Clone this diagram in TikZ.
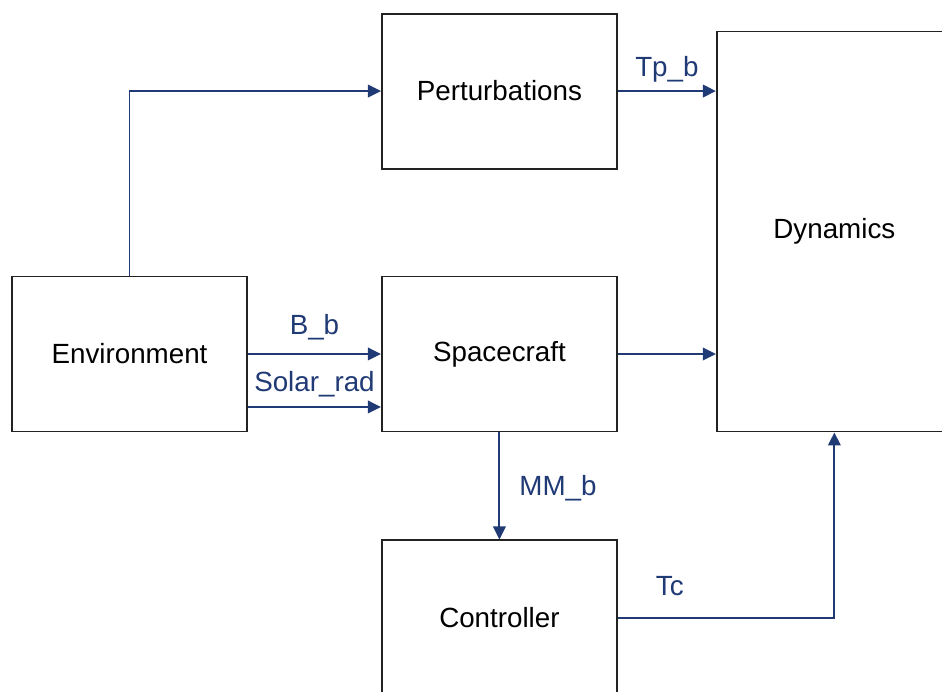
\documentclass[tikz,border=0pt]{standalone}
\usepackage{fontspec}
\setmainfont{Liberation Sans}
\usetikzlibrary{arrows.meta,positioning}
\definecolor{sigblue}{HTML}{1F3A75}
\definecolor{boxgray}{HTML}{222222}

\begin{document}
\begin{tikzpicture}[font=\fontsize{15.8pt}{19pt}\selectfont,
  blk/.style={draw=boxgray,line width=1.1pt,minimum width=4.7cm,minimum height=3.1cm,align=center,inner sep=0pt},
  sig/.style={-{Triangle[length=2.6mm,width=2.5mm]},sigblue,line width=1.1pt},
  lbl/.style={text=sigblue,inner sep=2pt,anchor=base}]
\useasboundingbox (0,0) rectangle (18.84,-13.84);
\node[blk] (env) at (2.59,-7.08) {Environment};
\node[blk,right=2.66cm of env] (sc) {Spacecraft};
\node[blk,above=2.12cm of sc] (pert) {Perturbations};
\node[blk,below=2.14cm of sc] (ctrl) {Controller};
\node[blk,minimum height=8cm,right=1.96cm of sc.south east,anchor=south west] (dyn) {Dynamics};
\draw[sig] (env.north) |- (pert.west);
\draw[sig] (pert.east) -- (pert.east -| dyn.west) node[lbl,midway,yshift=0.3cm] {Tp\_b};
\draw[sig] (env.east) -- (sc.west) node[lbl,midway,yshift=0.38cm] {B\_b};
\draw[sig] ([yshift=-1.06cm]env.east) -- ([yshift=-1.06cm]sc.west) node[lbl,midway,yshift=0.3cm] {Solar\_rad};
\draw[sig] (sc.east) -- (sc.east -| dyn.west);
\draw[sig] (sc.south) -- (ctrl.north) node[lbl,midway,anchor=base west,xshift=0.31cm,yshift=-0.19cm] {MM\_b};
\draw[sig] (ctrl.east) -| (dyn.south) node[lbl,pos=0.12,yshift=0.44cm] {Tc};
\end{tikzpicture}
\end{document}
